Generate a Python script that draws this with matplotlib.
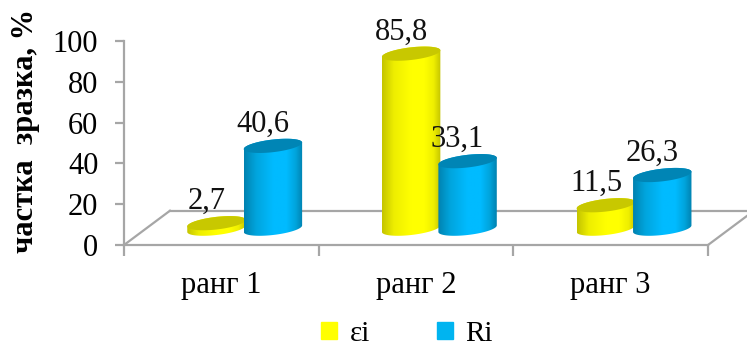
import numpy as np
import matplotlib
matplotlib.use("Agg")
import matplotlib.pyplot as plt
from matplotlib.colors import LinearSegmentedColormap
from matplotlib.patches import Patch, Polygon

plt.rcParams['font.family'] = ['Liberation Serif', 'DejaVu Serif']

categories = ["ранг 1", "ранг 2", "ранг 3"]
series_names = ["εi", "Ri"]
ei_values = [2.7, 85.8, 11.5]
ri_values = [40.6, 33.1, 26.3]
labels_ei = ["2,7", "85,8", "11,5"]
labels_ri = ["40,6", "33,1", "26,3"]
y_ticks = [0, 20, 40, 60, 80, 100]

W, H = 747, 348
GREY = "#a6a6a6"

# cylinder look, in axis units
BASE = 8.0        # cylinders stand in the middle of the floor
RX = 0.15         # half width
RY = 3.1          # half height of the ellipse
TILT = 1.6        # ellipse rises to the right
DEPTH_X, DEPTH_Y = 0.236, 16.8


def ellipse(cx, cy, t):
    return cx + RX * np.cos(t), cy + RY * np.sin(t) + TILT * np.cos(t)


def cylinder(ax, cx, value, side_cmap, top_color, z):
    top = BASE + value
    # body outline: lower half of the base ellipse, then back along the top
    t_low = np.linspace(np.pi, 2 * np.pi, 60)
    t_up = np.linspace(0, np.pi, 60)
    xb, yb = ellipse(cx, BASE, t_low)
    xt, yt = ellipse(cx, top, t_up)
    outline = np.column_stack([np.r_[xb, xt], np.r_[yb, yt]])
    body = Polygon(outline, closed=True, fc="none", ec="none", zorder=z)
    ax.add_patch(body)
    grad = np.linspace(0, 1, 200).reshape(1, -1)
    im = ax.imshow(grad, cmap=side_cmap, vmin=0, vmax=1, aspect="auto",
                   extent=[cx - RX, cx + RX, BASE - 6, top + 6], zorder=z,
                   interpolation="bilinear")
    im.set_clip_path(body)
    # top face
    t = np.linspace(0, 2 * np.pi, 120)
    xe, ye = ellipse(cx, top, t)
    ax.fill(xe, ye, color=top_color, lw=0, zorder=z + 0.1)


def side_map(dark, mid, light):
    return LinearSegmentedColormap.from_list(
        "side", [(0, dark), (0.2, mid), (0.5, light), (0.72, light), (0.88, mid), (1, dark)])


yellow_side = side_map("#c4c400", "#eeee00", "#ffff00")
blue_side = side_map("#0082b0", "#00a4dc", "#00bbff")

fig = plt.figure(figsize=(W / 100, H / 100), dpi=100)
ax = fig.add_axes([124 / W, 1 - 245 / H, (708 - 124) / W, (245 - 41) / H])

x = np.arange(len(categories))

# floor of the 3D box
ax.plot([0, DEPTH_X], [0, DEPTH_Y], color=GREY, lw=1.6, clip_on=False, zorder=1)
ax.plot([DEPTH_X, 3.3], [DEPTH_Y, DEPTH_Y], color=GREY, lw=1.6, clip_on=False, zorder=1)
ax.plot([3, 3 + DEPTH_X], [0, DEPTH_Y], color=GREY, lw=1.6, clip_on=False, zorder=1)

for i in x:
    cylinder(ax, i + 0.475, ei_values[i], yellow_side, "#c8c800", 3)
    cylinder(ax, i + 0.765, ri_values[i], blue_side, "#0085b5", 4)
    ax.text(i + 0.425, BASE + ei_values[i] + 7, labels_ei[i], fontsize=22,
            ha="center", va="baseline", color="#111111", zorder=6)
    ax.text(i + 0.712, BASE + ri_values[i] + 7, labels_ri[i], fontsize=22,
            ha="center", va="baseline", color="#111111", zorder=6)

ax.set_xlim(0, 3)
ax.set_ylim(0, 100)
ax.set_yticks(y_ticks)
ax.set_xticks([0, 1, 2, 3])
ax.set_xticklabels([])
ax.set_xticks(x + 0.5, categories, minor=True)
ax.tick_params(axis="x", which="major", length=8, width=1.6, color=GREY)
ax.tick_params(axis="x", which="minor", length=0, pad=19, labelsize=22)
ax.tick_params(axis="y", length=6.5, width=1.6, color=GREY, pad=12, labelsize=22)
for s in ["top", "right"]:
    ax.spines[s].set_visible(False)
for s in ["left", "bottom"]:
    ax.spines[s].set_color(GREY)
    ax.spines[s].set_linewidth(1.6)

fig.text(26 / W, 1 - 131 / H, "частка  зразка, %", rotation=90, fontsize=22,
         fontweight="bold", ha="center", va="center")

handles = [Patch(color="#ffff00"), Patch(color="#00b4f0")]
ax.legend(handles, series_names, loc="center", ncol=2, frameon=False,
          bbox_to_anchor=(407 / W, 1 - 334 / H), bbox_transform=fig.transFigure,
          fontsize=21, handlelength=0.55, handleheight=0.55, handletextpad=0.42,
          columnspacing=2.3, borderpad=0)

fig.savefig("out.png", dpi=100)
